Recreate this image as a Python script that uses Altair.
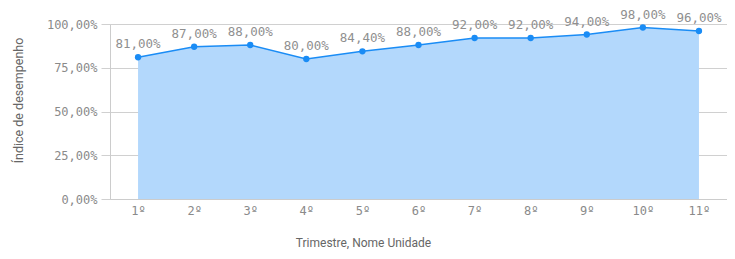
import altair as alt
import pandas as pd

categories = ["1º", "2º", "3º", "4º", "5º", "6º", "7º", "8º", "9º", "10º", "11º"]
values = [81.0, 87.0, 88.0, 80.0, 84.4, 88.0, 92.0, 92.0, 94.0, 98.0, 96.0]
y_ticks = [0, 25, 50, 75, 100]

df = pd.DataFrame({"cat": categories, "v": values})

MONO = "DejaVu Sans Mono"
LINE = "#1a8cf5"
FILL = "#b3d8fc"

x_enc = alt.X("cat:N", sort=categories,
              scale=alt.Scale(type="point", padding=0.5),
              axis=alt.Axis(title="Trimestre,  Nome Unidade", labelAngle=0,
                            labelFont=MONO, labelFontSize=12, labelColor="#8a8a8a",
                            ticks=False, labelPadding=6, domainColor="#cccccc",
                            titleFont="Roboto", titleFontSize=12, titleFontWeight="normal",
                            titleColor="#666666", titleX=253, titleY=43,
                            titleBaseline="middle", titleAnchor="middle", grid=False))
y_enc = alt.Y("v:Q", scale=alt.Scale(domain=[0, 100], nice=False),
              axis=alt.Axis(title="Índice de desempenho", values=y_ticks,
                            labelExpr="replace(format(datum.value, '.2f'), '.', ',') + '%'",
                            labelFont=MONO, labelFontSize=12, labelColor="#8a8a8a",
                            tickSize=9, tickColor="#d0d0d0", labelPadding=4,
                            domainColor="#cccccc", gridColor="#d0d0d0",
                            titleFont="Roboto", titleFontSize=12.5, titleFontWeight="normal",
                            titleColor="#666666", titleAngle=-90, titleX=-92, titleY=76,
                            titleAlign="center", titleBaseline="middle"))

base = alt.Chart(df).encode(x=x_enc, y=y_enc)

area = base.mark_area(color=FILL, opacity=1)
line = base.mark_line(color=LINE, strokeWidth=1.5)
pts = base.mark_circle(color=LINE, size=40, opacity=1)
labels = base.mark_text(font=MONO, fontSize=12.5, color="#8f8f8f", dy=-13,
                        baseline="middle").encode(
    text=alt.Text("lbl:N")).transform_calculate(
    lbl="replace(format(datum.v, '.2f'), '.', ',') + '%'")

chart = (area + line + pts + labels).properties(
    width=617, height=175,
    autosize=alt.AutoSizeParams(type="none"),
    padding={"left": 102, "top": 16, "right": 0, "bottom": 52},
).configure_view(stroke=None).configure(background="white")

chart.save("out.html", embed_options={"renderer": "svg", "actions": False})
